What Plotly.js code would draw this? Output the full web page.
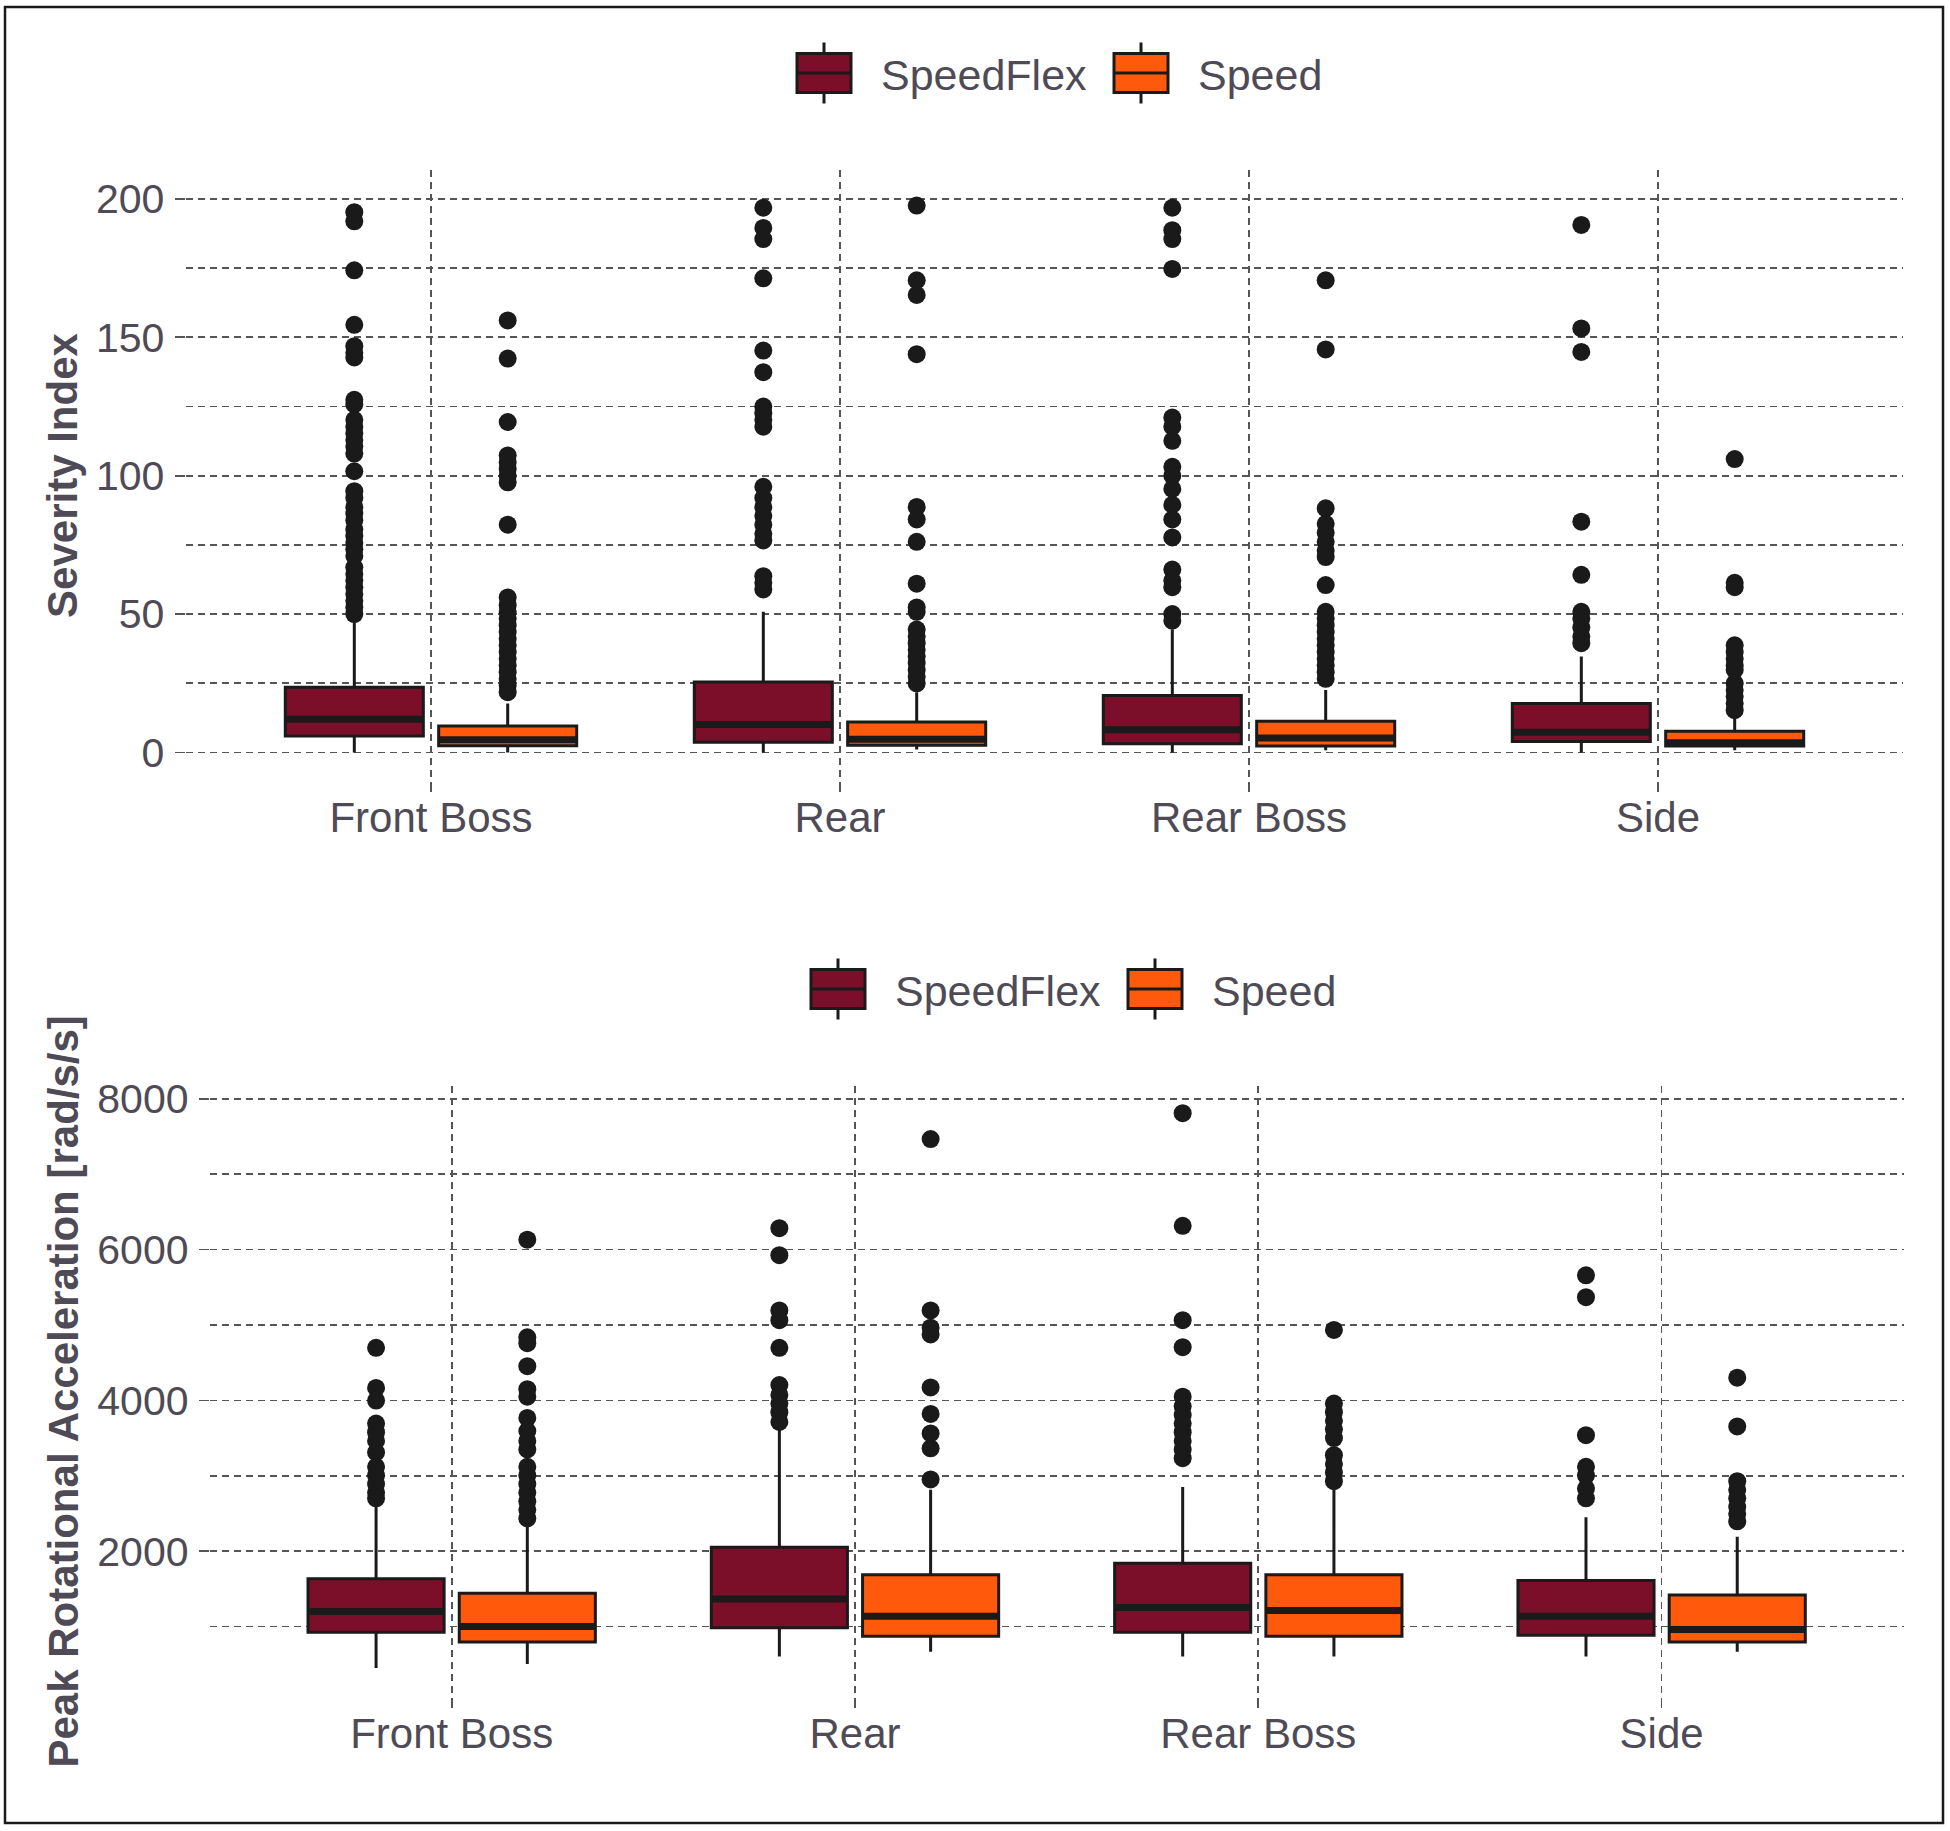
<!DOCTYPE html>
<html><head><meta charset="utf-8">
<script src="https://cdn.plot.ly/plotly-3.0.1.min.js"></script>
<style>
html,body{margin:0;padding:0;background:#fff;}
#chart{width:1950px;height:1831px;}
path.legendbox{
  d:path("M6,6H-6V-6H6Z M6,0H-6 M0,-6V-9.4 M0,6V9.4");
  transform:translate(57px,0px) scale(4.5,3.25);
  vector-effect:non-scaling-stroke;
}
</style></head><body><div id="chart"></div>
<script>
// ---------- data ----------
const categories = ['Front Boss', 'Rear', 'Rear Boss', 'Side'];
const seriesNames = ['SpeedFlex', 'Speed'];

// Severity Index — SpeedFlex
const siFlexLow = [0, 0, 0, 0];
const siFlexQ1 = [6.0, 3.7, 3.2, 4.0];
const siFlexMed = [12.0, 10.1, 8.2, 7.3];
const siFlexQ3 = [23.6, 25.5, 20.6, 17.7];
const siFlexHigh = [47, 50.8, 44.4, 34.7];
const siFlexOut = [
  [195.2,191.9,174.2,154.5,146.8,144.4,142.7,127.4,125.8,120.2,117.7,115.3,112.9,110.5,108,101.6,94.4,91.9,88.7,86.3,83.9,80.6,78.2,75.8,73.4,71,66.9,64.5,62.1,59.7,57.3,54.8,52.4,50],
  [196.8,189.5,185.5,171.3,145.2,137.4,125,122.6,120.2,117.7,96,91.9,88.7,85.5,82.3,79,76.6,63.7,61.3,58.9],
  [196.8,188.7,185.5,174.7,121,117.7,112.6,103.2,100,95.2,89.5,84.2,77.7,66.1,62.1,59.7,50,47.6],
  [190.6,153.2,144.7,83.4,64.2,50.8,48.4,45.2,41.9,39.5]
];
// Severity Index — Speed
const siSpeedLow = [0, 1.1, 0.8, 0.8];
const siSpeedQ1 = [2.4, 2.6, 2.3, 2.3];
const siSpeedMed = [4.6, 4.8, 5.2, 3.5];
const siSpeedQ3 = [9.6, 11.0, 11.3, 7.7];
const siSpeedHigh = [17.7, 21.8, 22.6, 13.7];
const siSpeedOut = [
  [156.1,142.3,119.4,107.3,104.8,102.4,100,97.6,82.3,56,53.2,50.8,48.4,46,43.5,41.1,38.7,36.3,33.9,31.5,29,26.6,24.2,21.8],
  [197.6,170.6,165.3,143.9,88.7,84.2,76.1,61,52.4,50.8,44.4,41.9,39.5,37.1,34.7,32.3,29.8,27.4,25],
  [170.6,145.6,88.2,82.6,79.4,76.1,72.9,70.6,60.5,50.8,48.4,46,43.5,41.1,38.7,36.3,33.9,31.5,29,26.6],
  [106,61.3,59.7,38.7,36.3,33.9,31.5,29.8,25,22.6,20.2,17.7,15.3]
];

// Peak Rotational Acceleration — SpeedFlex
const praFlexLow = [451, 604, 604, 604];
const praFlexQ1 = [924, 985, 924, 886];
const praFlexMed = [1199, 1366, 1252, 1138];
const praFlexQ3 = [1633, 2053, 1839, 1610];
const praFlexHigh = [2624, 3616, 2853, 2449];
const praFlexOut = [
  [4698,4165,3997,3692,3578,3463,3311,3120,3006,2891,2777,2701],
  [6284,5926,5194,5064,4698,4203,4073,3959,3844,3715],
  [7809,6315,5064,4706,4050,3921,3806,3692,3578,3463,3349,3234],
  [5659,5369,3539,3120,3006,2830,2701]
];
// Peak Rotational Acceleration — Speed
const praSpeedLow = [505, 665, 604, 665];
const praSpeedQ1 = [794, 871, 871, 794];
const praSpeedMed = [1000, 1138, 1214, 962];
const praSpeedQ3 = [1443, 1687, 1687, 1420];
const praSpeedHigh = [2350, 2815, 2815, 2190];
const praSpeedOut = [
  [6132,4836,4759,4454,4149,4050,3768,3593,3463,3349,3120,3006,2891,2777,2662,2548,2434],
  [7466,5194,4965,4874,4172,3821,3562,3364,2952],
  [4935,3959,3844,3730,3616,3501,3273,3158,3044,2929],
  [4302,3654,2929,2815,2701,2586,2495,2396]
];

// ---------- styling ----------
const W = 1950, H = 1831;
const px2x = p => p / W;
const px2y = p => 1 - p / H;
const FONT = '"Liberation Sans", Arial, Helvetica, sans-serif';
const TXT = '#4e4a56';
const GRID = '#555555';
const DASH = '7px,5px';
const OUTLINE = '#1a1a1a';
const colors = ['#7b0e29', '#ff5a0c'];
const dodge = 0.1875, boxW = 0.3375;
const catIdx = categories.map((c, i) => i + 1);

const traces = [];
function addPanel(xa, ya, legendId, stats) {
  stats.forEach((s, k) => {
    const off = k === 0 ? -dodge : dodge;
    const xs = catIdx.map(v => v + off);
    traces.push({
      type: 'box', name: seriesNames[k], xaxis: xa, yaxis: ya, legend: legendId,
      x: xs, q1: s.q1, median: s.med, q3: s.q3, lowerfence: s.low, upperfence: s.high,
      width: boxW, whiskerwidth: 0, boxpoints: false,
      fillcolor: colors[k], line: { color: OUTLINE, width: 3 },
      hoverinfo: 'skip'
    });
  });
  stats.forEach((s, k) => {
    const off = k === 0 ? -dodge : dodge;
    const mx = [], my = [];
    catIdx.forEach((v, i) => { mx.push(v + off - boxW / 2, v + off + boxW / 2, null); my.push(s.med[i], s.med[i], null); });
    traces.push({ type: 'scatter', mode: 'lines', x: mx, y: my, xaxis: xa, yaxis: ya, showlegend: false,
      line: { color: OUTLINE, width: 7 }, hoverinfo: 'skip' });
    const ox = [], oy = [];
    s.out.forEach((arr, i) => arr.forEach(v => { ox.push(catIdx[i] + off); oy.push(v); }));
    traces.push({ type: 'scatter', mode: 'markers', x: ox, y: oy, xaxis: xa, yaxis: ya, showlegend: false,
      marker: { color: OUTLINE, size: 18 }, hoverinfo: 'skip' });
  });
}
addPanel('x', 'y', 'legend', [
  { low: siFlexLow, q1: siFlexQ1, med: siFlexMed, q3: siFlexQ3, high: siFlexHigh, out: siFlexOut },
  { low: siSpeedLow, q1: siSpeedQ1, med: siSpeedMed, q3: siSpeedQ3, high: siSpeedHigh, out: siSpeedOut }
]);
addPanel('x2', 'y2', 'legend2', [
  { low: praFlexLow, q1: praFlexQ1, med: praFlexMed, q3: praFlexQ3, high: praFlexHigh, out: praFlexOut },
  { low: praSpeedLow, q1: praSpeedQ1, med: praSpeedMed, q3: praSpeedQ3, high: praSpeedHigh, out: praSpeedOut }
]);

const gridCommon = {
  showgrid: true, gridcolor: GRID, gridwidth: 1.7, griddash: DASH,
  zeroline: false, showline: false,
  ticks: 'outside', ticklen: 10, tickwidth: 1.7, tickcolor: GRID,
  tickfont: { family: FONT, size: 42, color: TXT }, automargin: false
};
function xAxis(domain, anchor) {
  return Object.assign({}, gridCommon, {
    domain: domain, anchor: anchor, range: [0.4, 4.6],
    tickmode: 'array', tickvals: catIdx, ticktext: categories, ticklabelstandoff: -10
  });
}
function yAxis(domain, anchor, range, dtick, minorDtick, title) {
  return Object.assign({}, gridCommon, {
    domain: domain, anchor: anchor, range: range, tick0: 0, dtick: dtick,
    tickfont: { family: FONT, size: 41, color: TXT }, ticklabelstandoff: 2,
    minor: { dtick: minorDtick, tick0: 0, showgrid: true, gridcolor: GRID, gridwidth: 1.7, griddash: DASH, ticks: '' },
    title: { text: title, font: { family: FONT, size: 42, color: TXT, weight: 'bold' }, standoff: 5 }
  });
}

const legendCommon = {
  orientation: 'h', xanchor: 'left', yanchor: 'middle',
  font: { family: FONT, size: 43, color: TXT }, itemwidth: 104, entrywidth: 198, entrywidthmode: 'pixels',
  traceorder: 'normal', bgcolor: 'rgba(0,0,0,0)', itemclick: false
};

const layout = {
  width: W, height: H, autosize: false,
  margin: { l: 0, r: 0, t: 0, b: 0, pad: 0 },
  paper_bgcolor: '#ffffff', plot_bgcolor: '#ffffff',
  font: { family: FONT, color: TXT },
  boxmode: 'overlay', showlegend: true,
  xaxis: xAxis([px2x(185.6), px2x(1903.4)], 'y'),
  yaxis: yAxis([px2y(781), px2y(170.1)], 'x', [-10.3, 210.4], 50, 25, 'Severity Index'),
  xaxis2: xAxis([px2x(209.7), px2x(1903.6)], 'y2'),
  yaxis2: yAxis([px2y(1696.7), px2y(1086)], 'x2', [70, 8170], 2000, 1000, 'Peak Rotational Acceleration [rad/s/s]'),
  legend: Object.assign({}, legendCommon, { x: px2x(767), y: px2y(73) }),
  legend2: Object.assign({}, legendCommon, { x: px2x(781), y: px2y(989) }),
  shapes: [{ type: 'rect', xref: 'paper', yref: 'paper', x0: px2x(5), x1: px2x(1943), y0: px2y(1823), y1: px2y(7),
    line: { color: '#1a1a1a', width: 2.5 }, fillcolor: 'rgba(0,0,0,0)', layer: 'above' }]
};

Plotly.newPlot('chart', traces, layout, { staticPlot: true, displayModeBar: false });
</script></body></html>
